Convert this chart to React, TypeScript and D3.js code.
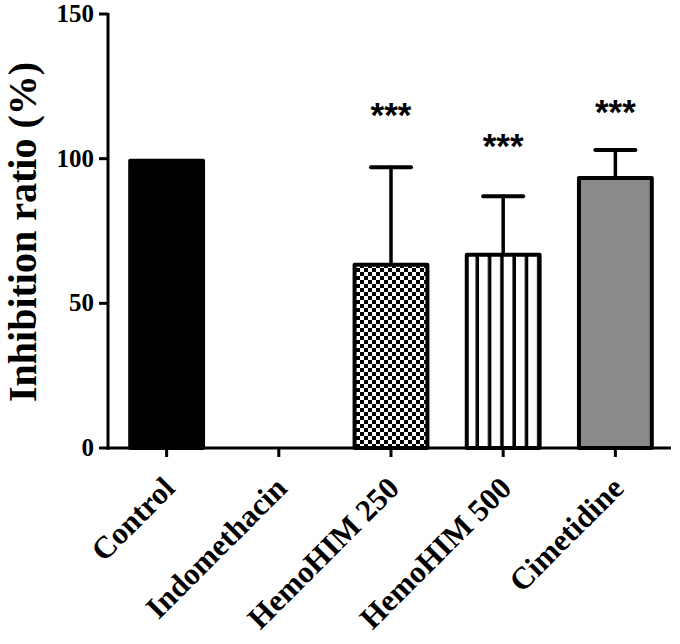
import React from "react";
import * as d3 from "d3";

const categories = ["Control", "Indomethacin", "HemoHIM 250", "HemoHIM 500", "Cimetidine"];
const means = [100, 0, 64, 67.5, 94];
const errors = [0, 0, 33, 19.5, 9];
const fills = ["black", "none", "url(#checker)", "url(#stripes)", "#8a8a8a"];
const stars = ["", "", "***", "***", "***"];
const starLevels = [0, 0, 116, 105.5, 117];
const yTicks = [0, 50, 100, 150];
const yLabel = "Inhibition ratio (%)";

const W = 680;
const H = 644;

export default function App() {
  const y = d3.scaleLinear().domain([0, 150]).range([448, 14]);
  const x = d3
    .scaleBand<string>()
    .domain(categories)
    .range([108, 674])
    .paddingInner(0.315)
    .paddingOuter(0.18);
  const bw = x.bandwidth();
  const serif = "'Liberation Serif', 'Times New Roman', serif";
  const sans = "'Liberation Sans', Arial, sans-serif";
  const capW = 40;

  return (
    <svg
      width={W}
      height={H}
      viewBox={`0 0 ${W} ${H}`}
      style={{ position: "absolute", left: 0, top: 0, background: "white" }}
    >
      <defs>
        <pattern id="checker" width={8} height={8} patternUnits="userSpaceOnUse">
          <rect width={8} height={8} fill="white" />
          <rect x={0} y={0} width={4} height={4} fill="black" />
          <rect x={4} y={4} width={4} height={4} fill="black" />
        </pattern>
        <pattern id="stripes" width={12.3} height={10} patternUnits="userSpaceOnUse" x={x(categories[3])! + 2}>
          <rect width={12.3} height={10} fill="white" />
          <rect x={8.8} y={0} width={3.5} height={10} fill="black" />
        </pattern>
      </defs>
      <rect width={W} height={H} fill="white" />

      {/* bars */}
      {categories.map((c, i) => {
        if (means[i] <= 0) return null;
        const x0 = x(c)!;
        return (
          <rect
            key={c}
            x={x0 + 2}
            y={y(means[i]) + 2}
            width={bw - 4}
            height={y(0) - y(means[i]) - 2}
            fill={fills[i]}
            stroke="black"
            strokeWidth={4}
            strokeLinejoin="round"
          />
        );
      })}

      {/* error bars */}
      {categories.map((c, i) => {
        if (errors[i] <= 0) return null;
        const cx = x(c)! + bw / 2;
        return (
          <g key={c} stroke="black" strokeWidth={3.5} strokeLinecap="round">
            <line x1={cx} x2={cx} y1={y(means[i])} y2={y(means[i] + errors[i])} />
            <line x1={cx - capW / 2} x2={cx + capW / 2} y1={y(means[i] + errors[i])} y2={y(means[i] + errors[i])} strokeWidth={4} />
          </g>
        );
      })}

      {/* significance stars */}
      {categories.map((c, i) =>
        stars[i] ? (
          <text
            key={c}
            x={x(c)! + bw / 2}
            y={y(starLevels[i]) + 15}
            textAnchor="middle"
            fontFamily={sans}
            fontWeight="bold"
            fontSize={35}
            fill="black"
          >
            {stars[i]}
          </text>
        ) : null
      )}

      {/* y axis */}
      <line x1={108} x2={108} y1={y(150) - 1} y2={y(0) + 1.5} stroke="black" strokeWidth={3} />
      {yTicks.map((t) => (
        <g key={t}>
          <line x1={99} x2={108} y1={y(t)} y2={y(t)} stroke="black" strokeWidth={3} />
          <text
            x={94}
            y={y(t) + 8}
            textAnchor="end"
            fontFamily={serif}
            fontWeight="bold"
            fontSize={25}
            fill="black"
          >
            {t}
          </text>
        </g>
      ))}

      {/* x axis */}
      <line x1={106.5} x2={671} y1={y(0)} y2={y(0)} stroke="black" strokeWidth={3} />
      {categories.map((c) => {
        const cx = x(c)! + bw / 2;
        return (
          <g key={c}>
            <line x1={cx} x2={cx} y1={y(0)} y2={y(0) + 9} stroke="black" strokeWidth={3} />
            <text
              transform={`translate(${cx + 10},${y(0) + 42}) rotate(-45)`}
              textAnchor="end"
              fontFamily={serif}
              fontWeight="bold"
              fontSize={31}
              fill="black"
            >
              {c}
            </text>
          </g>
        );
      })}

      {/* y label */}
      <text
        transform={`translate(36,232) rotate(-90)`}
        textAnchor="middle"
        fontFamily={serif}
        fontWeight="bold"
        fontSize={40}
        fill="black"
      >
        {yLabel}
      </text>
    </svg>
  );
}
